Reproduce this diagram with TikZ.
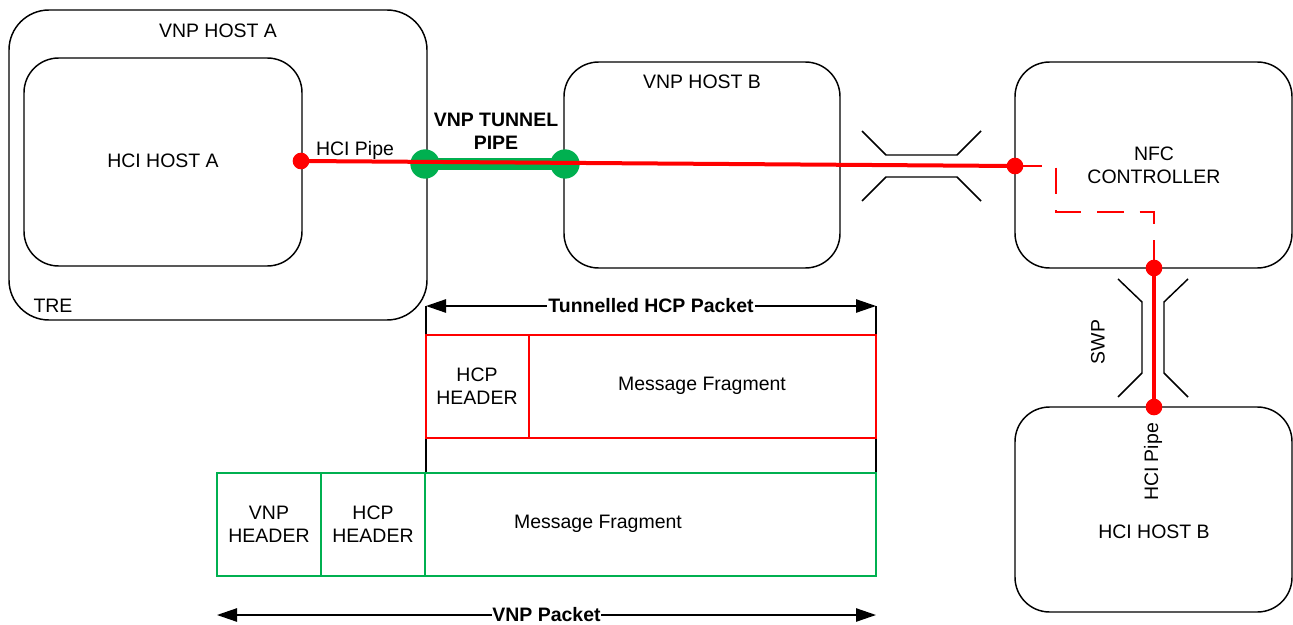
\documentclass[tikz,border=0pt]{standalone}
\usepackage{fontspec}
\setmainfont{Liberation Sans}
\usetikzlibrary{arrows.meta,fit}
\definecolor{tunnelgreen}{HTML}{00B050}

\begin{document}
\begin{tikzpicture}[
        x=0.75pt, y=-0.75pt,
        every node/.style={font=\fontsize{14.6}{17}\selectfont, align=center},
        hostbox/.style={draw, line width=1.1pt, rounded corners=26pt, inner sep=0pt},
        pipedot/.style={circle, fill=red, inner sep=0pt, minimum size=12.5pt},
        tunneldot/.style={circle, fill=tunnelgreen, inner sep=0pt, minimum size=22pt},
        redfield/.style={draw=red, line width=1.1pt, inner sep=0pt},
        greenfield/.style={draw=tunnelgreen, line width=1.1pt, inner sep=0pt},
        pipe/.style={red, line width=3pt},
        tunnel/.style={tunnelgreen, line width=9pt},
        ctrllink/.style={red, line width=1.1pt, dash pattern=on 20pt off 12pt},
        link/.style={black, line width=1.1pt},
        span/.style={{Triangle[length=15pt,width=10pt]}-{Triangle[length=15pt,width=10pt]}, line width=1.1pt},
        boldlabel/.style={font=\fontsize{14.6}{17}\selectfont\bfseries}
    ]
    \useasboundingbox (0,0) rectangle (1293,625);

    % hosts
    \node [hostbox, rounded corners=30pt, fit={(9,10) (427,320)}] (hostA) {};
    \node [hostbox, fit={(24,58) (302,266)}] (hciA) {};
    \node [hostbox, fit={(564,62) (840,268)}] (hostB) {};
    \node [hostbox, fit={(1015,62) (1292,268)}] (nfc) {};
    \node [hostbox, fit={(1015,407) (1292,612)}] (hciB) {};

    \node (hostAtext) at (218,31) {VNP HOST A};
    \node (hciAtext) at (163,161) {HCI HOST A};
    \node (tre) at (53,306) {TRE};
    \node (hostBtext) at (702,82) {VNP HOST B};
    \node (nfctext) at (1154,165) {NFC\\CONTROLLER};
    \node (hciBtext) at (1154,532) {HCI HOST B};

    % tunnel pipe
    \node [tunneldot] (gA) at (425,164) {};
    \node [tunneldot] (gB) at (565,164) {};
    \draw [tunnel] (gA.center) -- (gB.center);
    \node [boldlabel] (tunneltext) at (496,131) {VNP TUNNEL\\PIPE};

    % HCI pipe
    \node [pipedot] (dA) at (301,161) {};
    \node [pipedot] (dB) at (1015,166) {};
    \node [pipedot] (dC) at (1154,268) {};
    \node [pipedot] (dD) at (1154,407) {};
    \draw [pipe] (dA.center) -- (dB.center);
    \draw [pipe] (dC.center) -- (dD.center);
    \node (pipetext) at (355,150) {HCI Pipe};
    \node [rotate=90] (pipetextB) at (1153,462) {HCI Pipe};

    \coordinate (bend) at (1056,212);
    \draw [ctrllink] (dB.center) -| (bend) -| (dC.center);

    % RF link
    \draw [link] (862,131) -- (886,155) -- (957,155) -- (981,131);
    \draw [link] (862,201) -- (886,177) -- (957,177) -- (981,201);

    % SWP link
    \draw [link] (1118,279) -- (1142,302) -- (1142,373) -- (1118,397);
    \draw [link] (1188,279) -- (1164,302) -- (1164,373) -- (1188,397);
    \node [rotate=90] (swp) at (1098,342) {SWP};

    % tunnelled packet
    \coordinate (tL) at (426,306);
    \coordinate (tR) at (876,306);
    \draw [link] (tL) -- (426,473);
    \draw [link] (tR) -- (876,480);
    \draw [span] (tL) -- node [boldlabel, fill=white, inner sep=1pt] (tunnelpkt) {Tunnelled HCP Packet} (tR);
    \node [redfield, fit={(426,335) (529,438)}] (hcpT) {};
    \node [redfield, fit={(529,335) (876,438)}] (fragT) {};
    \node (hcpTtext) at (477,386) {HCP\\HEADER};
    \node (fragTtext) at (702,386) {Message Fragment};

    % vnp packet
    \node [greenfield, fit={(217,473) (321,576)}] (vnpV) {};
    \node [greenfield, fit={(321,473) (425,576)}] (hcpV) {};
    \node [greenfield, fit={(425,473) (876,576)}] (fragV) {};
    \node (vnpVtext) at (269,524) {VNP\\HEADER};
    \node (hcpVtext) at (373,524) {HCP\\HEADER};
    \node (fragVtext) at (598,524) {Message Fragment};

    \coordinate (vL) at (217,615);
    \coordinate (vR) at (876,615);
    \draw [span] (vL) -- node [boldlabel, fill=white, inner sep=0.5pt] (vnppkt) {VNP Packet} (vR);
\end{tikzpicture}
\end{document}
